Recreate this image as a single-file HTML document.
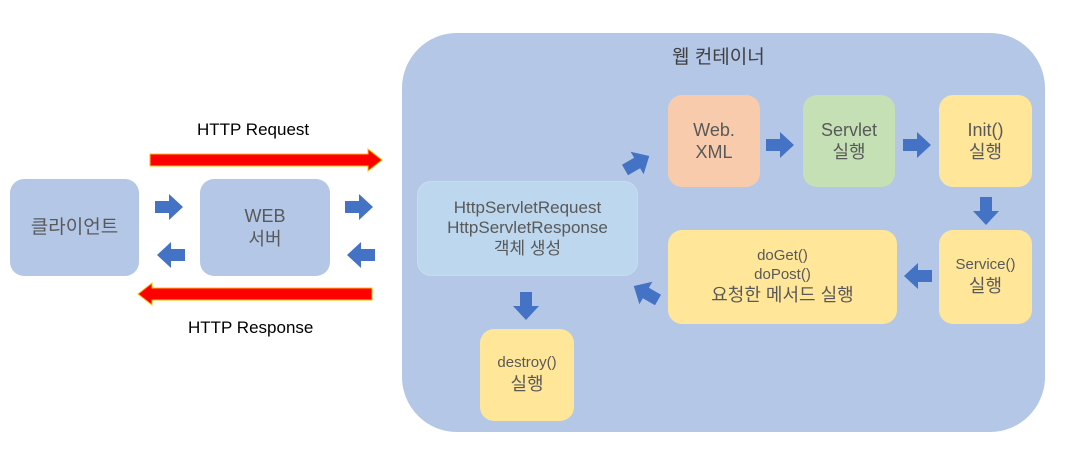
<!DOCTYPE html>
<html><head><meta charset="utf-8"><style>
body{margin:0;width:1072px;height:459px;background:#fff;position:relative;overflow:hidden;font-family:"Liberation Sans","Noto Sans CJK KR",sans-serif;color:#595959}
.b{position:absolute;border-radius:14px;display:flex;align-items:center;justify-content:center;text-align:center;line-height:1.25}
.t{position:absolute;color:#000;font-size:17px;white-space:nowrap}
svg{position:absolute;left:0;top:0}
</style></head><body>
<div class="b" style="left:402px;top:33px;width:643px;height:399px;border-radius:55px;background:#b4c7e7"></div>
<div style="position:absolute;left:672px;top:42px;font-size:19px;color:#404040">웹 컨테이너</div>
<div class="t" style="left:197px;top:120px">HTTP Request</div>
<div class="t" style="left:188px;top:318px">HTTP Response</div>
<div class="b" style="left:10px;top:179px;width:129px;height:97px;background:#b4c7e7;font-size:19px">클라이언트</div>
<div class="b" style="left:200px;top:179px;width:130px;height:97px;background:#b4c7e7;font-size:18px">WEB<br>서버</div>
<div class="b" style="left:417px;top:181px;width:219px;height:93px;background:#bdd7ee;border:1px solid #c9dcf0;font-size:17px;line-height:1.2">HttpServletRequest<br>HttpServletResponse<br>객체 생성</div>
<div class="b" style="left:668px;top:95px;width:92px;height:92px;background:#f8cbad;font-size:18px">Web.<br>XML</div>
<div class="b" style="left:803px;top:95px;width:92px;height:92px;background:#c5e0b4;font-size:18px">Servlet<br>실행</div>
<div class="b" style="left:939px;top:95px;width:93px;height:92px;background:#ffe699;font-size:18px">Init()<br>실행</div>
<div class="b" style="left:939px;top:230px;width:93px;height:94px;background:#ffe699;font-size:15px"><span>Service()<br><span style="font-size:18px">실행</span></span></div>
<div class="b" style="left:668px;top:230px;width:229px;height:94px;background:#ffe699;font-size:15px"><span>doGet()<br>doPost()<br><span style="font-size:18px">요청한 메서드 실행</span></span></div>
<div class="b" style="left:480px;top:329px;width:94px;height:92px;background:#ffe699;font-size:15px"><span>destroy()<br><span style="font-size:18px">실행</span></span></div>
<svg width="1072" height="459">
<defs><path id="ar" d="M0,-6 H14 V-13 L28,0 L14,13 V6 H0 Z" fill="#4472c4"/></defs>
<polygon points="150,154 368,154 368,149 382,160 368,171 368,166 150,166" fill="#f00" stroke="#ffc000" stroke-width="1"/>
<polygon points="372,288 152,288 152,283 138,294 152,305 152,300 372,300" fill="#f00" stroke="#ffc000" stroke-width="1"/>
<use href="#ar" transform="translate(155,207)"/>
<use href="#ar" transform="translate(185,255) rotate(180)"/>
<use href="#ar" transform="translate(345,207)"/>
<use href="#ar" transform="translate(375,255) rotate(180)"/>
<use href="#ar" transform="translate(625,170) rotate(-30)"/>
<use href="#ar" transform="translate(766,145)"/>
<use href="#ar" transform="translate(903,145)"/>
<use href="#ar" transform="translate(986,197) rotate(90)"/>
<use href="#ar" transform="translate(932,276) rotate(180)"/>
<use href="#ar" transform="translate(658,300) rotate(210)"/>
<use href="#ar" transform="translate(526,292) rotate(90)"/>
</svg>
</body></html>
